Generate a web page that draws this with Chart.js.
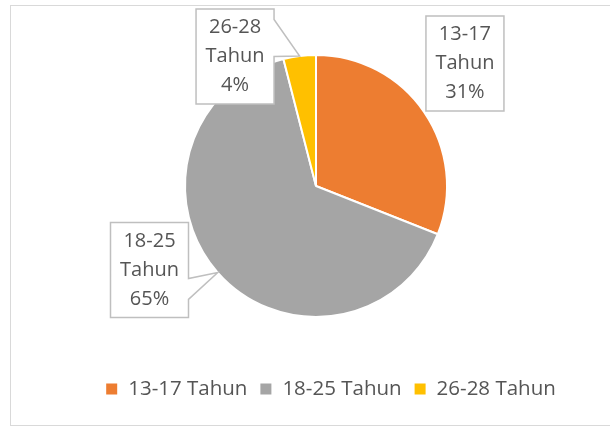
<!DOCTYPE html>
<html>
<head>
<meta charset="utf-8">
<script src="https://cdn.jsdelivr.net/npm/chart.js@4.4.1/dist/chart.umd.min.js"></script>
<style>
    html, body { margin: 0; padding: 0; background: #fff; overflow: hidden; }
    #frame { position: absolute; left: 10px; top: 5px; width: 640px; height: 419px; border: 1px solid #d9d9d9; }
    #wrap { position: absolute; left: 0; top: 0; width: 610px; height: 427px; }
</style>
</head>
<body>
<div id="frame"></div>
<div id="wrap"><canvas id="pie"></canvas></div>
<script>
const categories = ["13-17 Tahun", "18-25 Tahun", "26-28 Tahun"];
const shares = [31, 65, 4];
const sliceColors = ["#ED7D31", "#A5A5A5", "#FFC000"];

const FONT = "\"Open Sans\", \"Noto Sans\", sans-serif";
const TEXT_COLOR = "#555555";

// Callout boxes, placed relative to the pie centre (in radius units)
const calloutPlugin = {
    id: "callouts",
    afterDatasetsDraw(chart, args, opts) {
        const ctx = chart.ctx;
        const arcs = chart.getDatasetMeta(0).data;
        ctx.save();
        ctx.font = opts.fontSize + "px " + FONT;
        arcs.forEach((arc, i) => {
            const { x, y, outerRadius, startAngle, endAngle } =
                arc.getProps(["x", "y", "outerRadius", "startAngle", "endAngle"], true);
            const place = opts.places[i];
            const cx = x + place.dx * outerRadius;
            const cy = y + place.dy * outerRadius;
            const w = opts.boxWidth, h = opts.boxHeight;
            const left = cx - w / 2, top = cy - h / 2, right = cx + w / 2, bottom = cy + h / 2;

            ctx.beginPath();
            ctx.moveTo(left, top);
            ctx.lineTo(right, top);
            if (place.pointer) {
                // wedge from the right edge to the rim of the slice
                const mid = (startAngle + endAngle) / 2;
                const tx = x + Math.cos(mid) * outerRadius;
                const ty = y + Math.sin(mid) * outerRadius;
                ctx.lineTo(right, top + place.pointer[0] * h);
                ctx.lineTo(tx, ty);
                ctx.lineTo(right, top + place.pointer[1] * h);
            }
            ctx.lineTo(right, bottom);
            ctx.lineTo(left, bottom);
            ctx.closePath();
            ctx.fillStyle = "#fff";
            ctx.fill();
            ctx.strokeStyle = "#BFBFBF";
            ctx.lineWidth = 1.5;
            ctx.stroke();

            const lines = categories[i].split(" ").concat(shares[i] + "%");
            ctx.fillStyle = TEXT_COLOR;
            ctx.textAlign = "center";
            ctx.textBaseline = "middle";
            lines.forEach((t, k) => ctx.fillText(t, cx, cy + (k - 1) * opts.lineHeight));
        });
        ctx.restore();
    }
};

// Legend row under the pie
const legendPlugin = {
    id: "bottomLegend",
    afterDraw(chart, args, opts) {
        const ctx = chart.ctx;
        ctx.save();
        ctx.font = opts.fontSize + "px " + FONT;
        const widths = categories.map(c => ctx.measureText(c).width);
        const total = widths.reduce((s, w) => s + opts.box + opts.gap + w, 0) + opts.spacing * (categories.length - 1);
        let x = opts.centerX - total / 2;
        ctx.textBaseline = "middle";
        ctx.textAlign = "left";
        categories.forEach((c, i) => {
            ctx.fillStyle = sliceColors[i];
            ctx.fillRect(x, opts.y - opts.box / 2, opts.box, opts.box);
            x += opts.box + opts.gap;
            ctx.fillStyle = TEXT_COLOR;
            ctx.fillText(c, x, opts.y);
            x += widths[i] + opts.spacing;
        });
        ctx.restore();
    }
};

new Chart(document.getElementById("pie"), {
    type: "pie",
    data: {
        labels: categories,
        datasets: [{
            data: shares,
            backgroundColor: sliceColors,
            borderColor: "#fff",
            borderWidth: 2
        }]
    },
    options: {
        responsive: true,
        maintainAspectRatio: false,
        animation: false,
        layout: { padding: { top: 54, bottom: 109, left: 184, right: 162 } },
        plugins: {
            legend: { display: false },
            tooltip: { enabled: false },
            callouts: {
                fontSize: 20,
                lineHeight: 29,
                boxWidth: 78,
                boxHeight: 95,
                places: [
                    { dx: 1.137, dy: -0.935 },
                    { dx: -1.271, dy: 0.641, pointer: [0.59, 0.81] },
                    { dx: -0.618, dy: -0.989, pointer: [0.11, 0.5] }
                ]
            },
            bottomLegend: { fontSize: 20.5, box: 11, gap: 11, spacing: 13, centerX: 331, y: 389 }
        }
    },
    plugins: [calloutPlugin, legendPlugin]
});
</script>
</body>
</html>
